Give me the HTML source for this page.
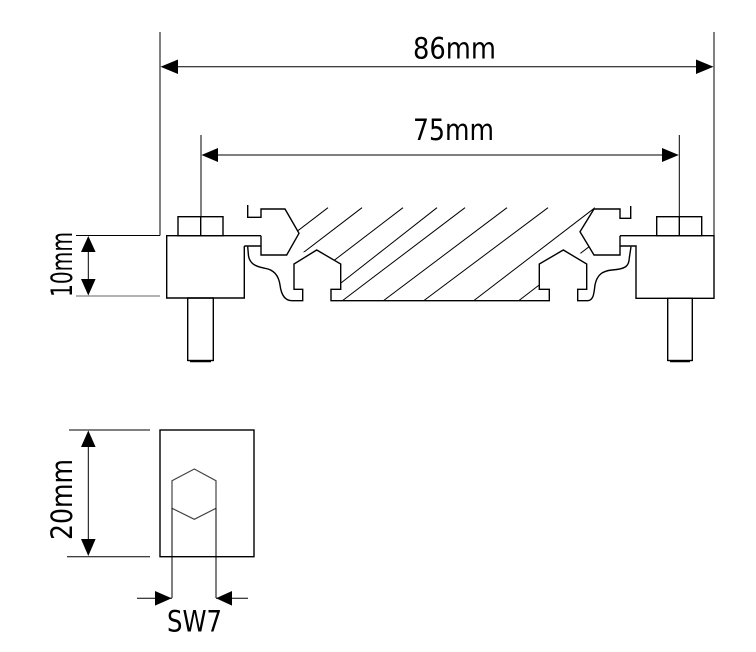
<!DOCTYPE html>
<html><head><meta charset="utf-8"><style>html,body{margin:0;padding:0;background:#fff}svg{display:block}</style></head>
<body>
<svg width="756" height="652" viewBox="0 0 756 652" xmlns="http://www.w3.org/2000/svg" font-family="'DejaVu Sans', sans-serif">
<defs>
<clipPath id="hc"><polygon points="281,206 299,233 287,255 317,250 341,264 341,301 549,301 549,289 539,289 539,264 563,250 594,256 580,232 596,206"/></clipPath>
</defs>
<g stroke="#000" stroke-width="1" fill="none">
<line x1="160" y1="32" x2="160" y2="235.5"/>
<line x1="714" y1="32" x2="714" y2="235.5"/>
<line x1="176" y1="66.7" x2="698" y2="66.7"/>
<line x1="201" y1="135" x2="201" y2="216.5"/>
<line x1="679.3" y1="135" x2="679.3" y2="216.5"/>
<line x1="217" y1="155" x2="663" y2="155"/>
<line x1="76" y1="235.5" x2="160" y2="235.5"/>
<line x1="76" y1="296" x2="160" y2="296" stroke="#666"/>
<line x1="88.3" y1="250" x2="88.3" y2="282"/>
</g>
<g fill="#000">
<polygon points="160.5,66.7 178,59.5 178,74"/>
<polygon points="713.5,66.7 696,59.5 696,74"/>
<polygon points="201.5,155 218,148 218,162"/>
<polygon points="678.8,155 662,148 662,162"/>
<polygon points="88.3,236 81,252 95.6,252"/>
<polygon points="88.3,295.5 81,279 95.6,279"/>
<polygon points="88.3,430.5 81,447 95.6,447"/>
<polygon points="88.3,556 81,539 95.6,539"/>
<polygon points="171.7,598.3 155,591 155,605.6"/>
<polygon points="216,598.3 232,591 232,605.6"/>
</g>
<g stroke="#000" stroke-width="1.4" fill="none" stroke-linejoin="miter">
<rect x="178" y="216.7" width="45" height="19"/>
<line x1="200.7" y1="216.7" x2="200.7" y2="235.7"/>
<polyline points="244.3,246 244.3,298 166.7,298 166.7,235.7 261,235.7"/>
<line x1="244.3" y1="246" x2="261" y2="246"/>
<rect x="187.7" y="298" width="25.6" height="62.5"/>
<line x1="190" y1="361.5" x2="211" y2="361.5"/>
<polyline points="247.7,205 247.7,217.3 261,217.3 261,209 285,209 299,233.3 286.7,255 261,255 261,235.7"/>
<path d="M247.7,246.7 L248.5,256 C250,265 258,267 265,268.3 C276,270 279,278 280,285 C281,293 284,300.7 292,300.7 L302.7,300.7 L302.7,289.3 L294,289.3 L294,264 L316.7,250 L340.7,264 L340.7,289.3 L331,289.3 L331,300.7 L549.3,300.7 L549.3,289.3 L539.3,289.3 L539.3,264 L563.3,250 L586.7,264 L586.7,289.3 L577.7,289.3 L577.7,300.7 L588,300.7 C594,300 594,292 595,285 C597,275 602,271 612,270 C626,269 629,266 629.3,258 L631,246.7"/>
<polyline points="630.7,206 630.7,218.3 620,218.3 620,209 594,209 580,231.7 594,255 620,255 620,235.7"/>
<polyline points="620,235.7 714,235.7 714,298.3 636,298.3 636,246 620,246"/>
<rect x="656.7" y="216.7" width="45" height="19"/>
<line x1="679.3" y1="216.7" x2="679.3" y2="235.7"/>
<rect x="667.7" y="298.3" width="24.6" height="62.2"/>
<line x1="670" y1="361.5" x2="690" y2="361.5"/>
</g>
<g stroke="#000" stroke-width="1" clip-path="url(#hc)">
<line x1="328" y1="207.7" x2="206" y2="301"/>
<line x1="362" y1="207.7" x2="240" y2="301"/>
<line x1="403" y1="207.7" x2="281" y2="301"/>
<line x1="437" y1="207.7" x2="318" y2="301"/>
<line x1="465" y1="207.7" x2="342" y2="301"/>
<line x1="507" y1="207.7" x2="383" y2="301"/>
<line x1="548" y1="207.7" x2="423.3" y2="301"/>
<line x1="595" y1="207.7" x2="473.3" y2="301"/>
<line x1="640" y1="207.7" x2="518.3" y2="301"/>
</g>
<g stroke="#000" fill="none">
<rect x="160" y="430" width="94" height="126.7" stroke-width="1.4"/>
<polygon points="194.3,469 216,480.7 216,508.3 194.3,519.3 172,508.3 172,480.7" stroke="#444" stroke-width="1.2"/>
<line x1="172" y1="508.3" x2="172" y2="598"/>
<line x1="216" y1="508.3" x2="216" y2="598"/>
<line x1="137" y1="598.3" x2="172" y2="598.3"/>
<line x1="216" y1="598.3" x2="248" y2="598.3"/>
<line x1="69" y1="430" x2="150" y2="430"/>
<line x1="67" y1="556.7" x2="150" y2="556.7"/>
<line x1="88.3" y1="445" x2="88.3" y2="541"/>
</g>
<g fill="#000" font-size="29">
<text x="413" y="58.3" textLength="83" lengthAdjust="spacingAndGlyphs">86mm</text>
<text x="413" y="140" textLength="81" lengthAdjust="spacingAndGlyphs">75mm</text>
<text x="167" y="631.7" textLength="55" lengthAdjust="spacingAndGlyphs">SW7</text>
<text transform="translate(72,297) rotate(-90)" textLength="65" lengthAdjust="spacingAndGlyphs">10mm</text>
<text transform="translate(72,540) rotate(-90)" textLength="81" lengthAdjust="spacingAndGlyphs">20mm</text>
</g>
</svg>
</body></html>
